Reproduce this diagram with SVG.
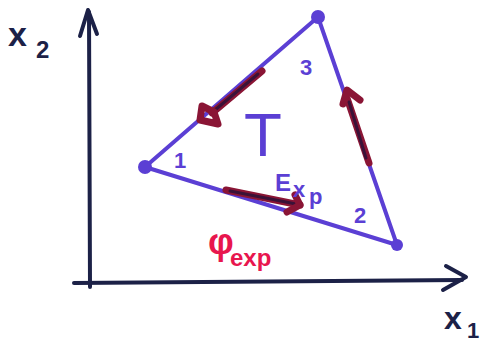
<svg xmlns="http://www.w3.org/2000/svg" width="487" height="345" viewBox="0 0 487 345">
<style>
.ax{fill:none;stroke:#1c2147;stroke-width:4;stroke-linecap:round;stroke-linejoin:round}
.tri{fill:none;stroke:#5b3fd4;stroke-width:4;stroke-linecap:round;stroke-linejoin:round}
.dot{fill:#5b3fd4}
.arr{fill:none;stroke:#8a1535;stroke-width:7;stroke-linecap:round;stroke-linejoin:round}
.arrc{fill:none;stroke:#3a1238;stroke-width:3;stroke-linecap:round}
.lab{font-family:"Liberation Sans",Arial,sans-serif;font-weight:bold}
.thin{font-family:"Liberation Sans",Arial,sans-serif;font-weight:normal}
.ink{fill:#1c2147}
.pur{fill:#5b3fd4}
.red{fill:#e8164e}
</style>
<rect width="487" height="345" fill="#ffffff"/>
<g id="axes">
<path class="ax" d="M90 287 L89 12"/>
<path class="ax" d="M80 36 L88 10 L97 34"/>
<path class="ax" d="M74 283 L462 280"/>
<path class="ax" d="M446 266 L466 277 L443 290"/>
</g>
<g id="label-x2"><text class="lab ink" x="8" y="46" font-size="34">x</text><text class="lab ink" x="36" y="58" font-size="24">2</text></g>
<g id="label-x1"><text class="lab ink" x="444" y="329" font-size="32">x</text><text class="lab ink" x="467" y="338" font-size="22">1</text></g>
<g id="triangle">
<path class="tri" d="M145 167 L318 17 L397 245 Z"/>
<circle class="dot" cx="145" cy="167" r="7"/>
<circle class="dot" cx="318" cy="17" r="7"/>
<circle class="dot" cx="397" cy="245" r="6"/>
</g>
<g id="vertex-1"><text class="lab pur" x="174" y="168" font-size="22">1</text></g>
<g id="vertex-3"><text class="lab pur" x="300" y="75" font-size="22">3</text></g>
<g id="vertex-2"><text class="lab pur" x="354" y="223" font-size="22">2</text></g>
<g id="connectors">
<path class="arr" d="M262 71 L212 113"/>
<path class="arrc" d="M258 74 L215 110"/>
<path class="arr" d="M200 120 L202 106 L214 112 L218 124 Z" fill="#a8163f"/>
<path class="arr" d="M226 190 L300 205"/>
<path class="arrc" d="M230 191 L296 204"/>
<path class="arr" d="M287 212 L300 205 L295 195"/>
<path class="arr" d="M369 163 L347 98"/>
<path class="arrc" d="M366 158 L349 102"/>
<path class="arr" d="M343 104 L347 90 L360 100"/>
</g>
<g id="element-label">
<text class="thin pur" x="244" y="156" font-size="62">T</text>
<text class="lab pur" x="275" y="191" font-size="24">E</text>
<text class="lab pur" x="293" y="197" font-size="22">x</text>
<text class="lab pur" x="309" y="204" font-size="22">p</text>
</g>
<g id="phi-label">
<text class="lab red" x="208" y="254" font-size="36">φ</text>
<text class="lab red" x="230" y="266" font-size="24">exp</text>
</g>
</svg>
